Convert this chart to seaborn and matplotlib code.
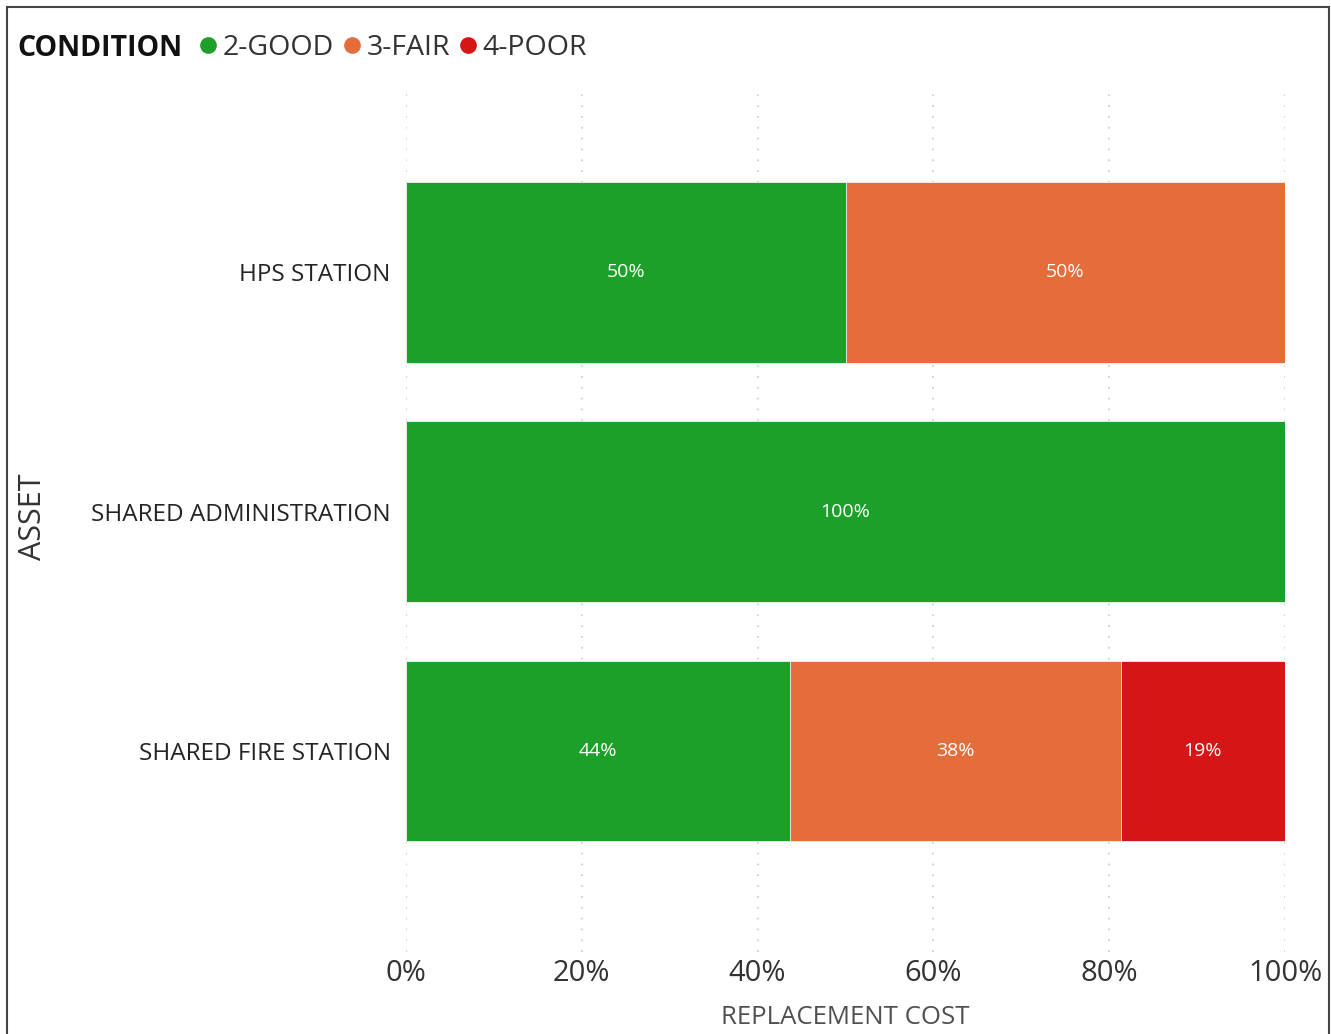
import matplotlib
matplotlib.use('Agg')
import matplotlib.pyplot as plt
import matplotlib.patches as mpatches
from matplotlib.lines import Line2D
from matplotlib.ticker import PercentFormatter
import seaborn as sns
import pandas as pd

assets = ['HPS STATION', 'SHARED ADMINISTRATION', 'SHARED FIRE STATION']
good = [50.0, 100.0, 43.7]
fair = [50.0, 0.0, 37.6]
poor = [0.0, 0.0, 18.7]

conditions = ['2-GOOD', '3-FAIR', '4-POOR']
colors = ['#1ca02a', '#e56d39', '#d71516']

sns.set_theme(style='white')
plt.rcParams['font.family'] = ['Open Sans', 'DejaVu Sans']

df = pd.DataFrame({'asset': assets, 'good': good, 'fair': fair, 'poor': poor})
df['cum_fair'] = df['good'] + df['fair']
df['cum_poor'] = df['cum_fair'] + df['poor']

fig = plt.figure(figsize=(13.31, 10.34), dpi=100)
ax = fig.add_axes([406 / 1331, 1 - 952 / 1034, 879 / 1331, 864 / 1034])

# stacked look: draw cumulative totals back to front
for col, c in zip(['cum_poor', 'cum_fair', 'good'], colors[::-1]):
    sns.barplot(data=df, y='asset', x=col, color=c, orient='h', width=0.755,
                saturation=1, ax=ax, zorder=3, linewidth=0.6, edgecolor='#f4f4f4')

for i, row in df.iterrows():
    left = 0
    for v in [row['good'], row['fair'], row['poor']]:
        if v > 0:
            ax.text(left + v / 2, i, f'{v:.0f}%', color='white', fontsize=14,
                    ha='center', va='center', zorder=5)
        left += v

ax.set_xlim(0, 100)
ax.set_ylim(2.84, -0.77)
ax.set_xticks([0, 20, 40, 60, 80, 100])
ax.xaxis.set_major_formatter(PercentFormatter(decimals=0))
ax.grid(axis='x', color='#cfcfcf', linestyle=(0, (1, 5)), linewidth=1.3, zorder=0)
ax.grid(axis='y', visible=False)
sns.despine(ax=ax, left=True, bottom=True)
ax.tick_params(axis='x', labelsize=21, colors='#333333', length=0, pad=5)
ax.tick_params(axis='y', labelsize=17.5, colors='#252423', length=0, pad=11)
ax.set_ylabel('')
ax.set_xlabel('REPLACEMENT COST', fontsize=18.5, color='#505050', labelpad=12)

fig.text(33 / 1331, 1 - 517 / 1034, 'ASSET', rotation=90, ha='center', va='center',
         fontsize=22, color='#333333')

# legend row
fig.text(17 / 1331, 1 - 48 / 1034, 'CONDITION', fontsize=20.5, fontweight='bold',
         color='#111111', ha='left', va='center')
handles = [Line2D([0], [0], marker='o', linestyle='', markersize=11,
                  markerfacecolor=c, markeredgecolor=c) for c in colors]
fig.legend(handles, conditions, loc='center left', bbox_to_anchor=(191 / 1331, 1 - 48 / 1034),
           ncol=3, frameon=False, fontsize=20.5, handletextpad=-0.1, columnspacing=0.05,
           handlelength=1.2, labelcolor='#333333', borderpad=0, borderaxespad=0)

# outer frame
fig.patches.append(mpatches.Rectangle((7 / 1331, -0.01), 1322 / 1331, (1034 - 7) / 1034 + 0.01,
                                      transform=fig.transFigure, fill=False,
                                      edgecolor='#444444', linewidth=1.5))

fig.savefig('out.png', dpi=100, facecolor='white')
